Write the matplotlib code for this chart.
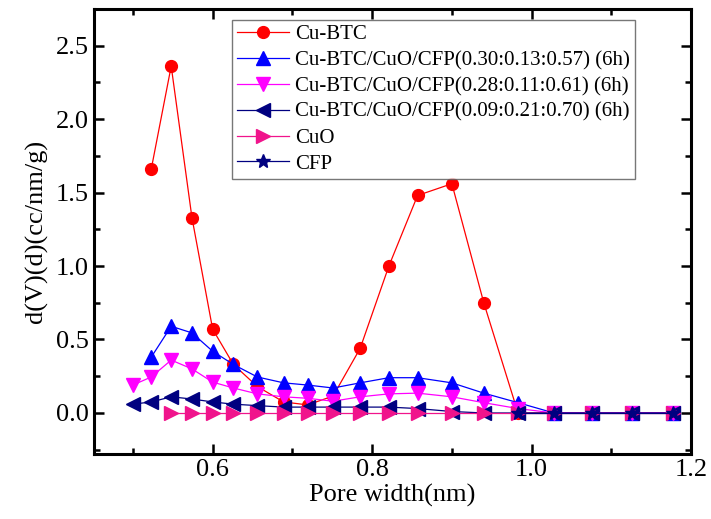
import matplotlib
matplotlib.use("Agg")
import matplotlib.pyplot as plt
from matplotlib.ticker import MultipleLocator

plt.rcParams['font.family'] = ['Liberation Serif', 'DejaVu Serif']

# pore widths (nm)
x_btc = [0.523, 0.548, 0.574, 0.600, 0.626, 0.656, 0.689, 0.719, 0.751, 0.785,
         0.821, 0.857, 0.900, 0.940, 0.983, 1.028, 1.076, 1.126, 1.177]
x_mix = [0.500] + x_btc
x_cuo = x_btc[1:]
x_cfp = [0.983, 1.028, 1.076, 1.126, 1.177]

y_btc = [1.66, 2.36, 1.33, 0.57, 0.33, 0.18, 0.075, 0.055, 0.115, 0.44,
         1.00, 1.48, 1.56, 0.75, 0.0, 0.0, 0.0, 0.0, 0.0]
y_a = [0.38, 0.59, 0.545, 0.42, 0.33, 0.245, 0.205, 0.19, 0.17, 0.205,
       0.24, 0.24, 0.205, 0.135, 0.07, 0.0, 0.0, 0.0, 0.0]
y_b = [0.19, 0.245, 0.36, 0.30, 0.21, 0.17, 0.13, 0.11, 0.10, 0.08, 0.11,
       0.13, 0.135, 0.11, 0.07, 0.03, 0.0, 0.0, 0.0, 0.0]
y_c = [0.06, 0.075, 0.11, 0.095, 0.075, 0.06, 0.05, 0.04, 0.04, 0.04, 0.04,
       0.04, 0.03, 0.01, 0.0, 0.0, 0.0, 0.0, 0.0, 0.0]
y_cuo = [0.0] * len(x_cuo)
y_cfp = [0.0] * len(x_cfp)

labels = ["Cu-BTC",
          "Cu-BTC/CuO/CFP(0.30:0.13:0.57) (6h)",
          "Cu-BTC/CuO/CFP(0.28:0.11:0.61) (6h)",
          "Cu-BTC/CuO/CFP(0.09:0.21:0.70) (6h)",
          "CuO",
          "CFP"]

fig = plt.figure(figsize=(7.11, 5.19), dpi=100)
ax = fig.add_axes([0.132, 0.125, 0.840, 0.858])

ax.plot(x_btc, y_btc, color='#FF0000', marker='o', ms=8.5, lw=0.9, label=labels[0])
ax.plot(x_btc, y_a, color='#0000FF', marker='^', ms=9.5, lw=0.9, label=labels[1])
ax.plot(x_mix, y_b, color='#FF00FF', marker='v', ms=9.5, lw=0.9, label=labels[2])
ax.plot(x_mix, y_c, color='#000080', marker='<', ms=9.5, lw=0.9, label=labels[3])
ax.plot(x_cuo, y_cuo, color='#F0148C', marker='>', ms=9.5, lw=0.9, label=labels[4])
ax.plot(x_cfp, y_cfp, color='#000080', marker='*', ms=10, lw=0.9, label=labels[5])

ax.set_xlim(0.451, 1.2)
ax.set_ylim(-0.28, 2.75)
ax.xaxis.set_major_locator(MultipleLocator(0.2))
ax.xaxis.set_minor_locator(MultipleLocator(0.1))
ax.yaxis.set_major_locator(MultipleLocator(0.5))
ax.yaxis.set_minor_locator(MultipleLocator(0.25))
ax.xaxis.set_major_formatter(plt.FormatStrFormatter('%.1f'))
ax.yaxis.set_major_formatter(plt.FormatStrFormatter('%.1f'))

ax.tick_params(which='both', direction='in', top=True, right=True, width=1.8,
               labelsize=19)
ax.tick_params(which='major', length=7)
ax.tick_params(which='minor', length=4)
for s in ax.spines.values():
    s.set_linewidth(2.2)

ax.set_xlabel("Pore width(nm)", fontsize=19, labelpad=2)
ax.set_ylabel("d(V)(d)(cc/nm/g)", fontsize=19, labelpad=6)

leg = ax.legend(loc='upper left', bbox_to_anchor=(0.224, 0.985), fontsize=15,
                frameon=True, fancybox=False, edgecolor='#555555',
                handlelength=2.5, labelspacing=0.3, borderpad=0.25,
                handletextpad=0.3, borderaxespad=0.2)
leg.get_frame().set_linewidth(1.0)

fig.savefig("out.png", dpi=100)
